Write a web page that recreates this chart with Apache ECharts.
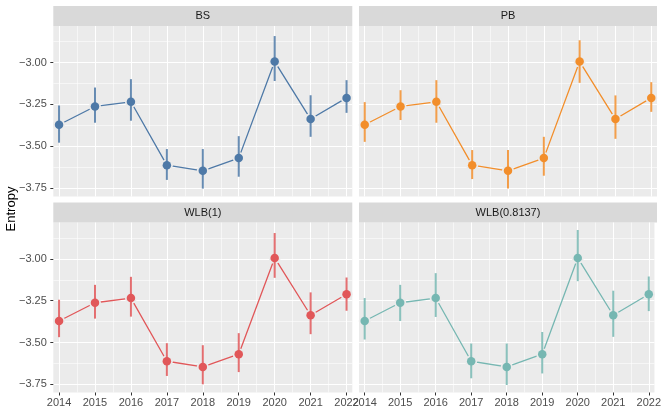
<!DOCTYPE html>
<html><head><meta charset="utf-8">
<script src="https://cdn.jsdelivr.net/npm/echarts@6/dist/echarts.min.js"></script>
<style>html,body{margin:0;padding:0;background:#fff}#c{width:664px;height:415px}</style>
</head><body><div id="c"></div><script>
const years = [2014, 2015, 2016, 2017, 2018, 2019, 2020, 2021, 2022];
const panelNames = ['BS', 'PB', 'WLB(1)', 'WLB(0.8137)'];
const panelColors = ['#4E79A7', '#F28E2B', '#E15759', '#76B7B2'];

const estBS   = [-3.371, -3.262, -3.234, -3.612, -3.646, -3.570, -2.994, -3.337, -3.211];
const lowBS   = [-3.478, -3.359, -3.347, -3.700, -3.752, -3.681, -3.110, -3.443, -3.300];
const highBS  = [-3.256, -3.149, -3.099, -3.516, -3.516, -3.439, -2.842, -3.195, -3.105];

const estPB   = [-3.371, -3.262, -3.234, -3.612, -3.646, -3.570, -2.994, -3.337, -3.211];
const lowPB   = [-3.473, -3.343, -3.359, -3.695, -3.752, -3.675, -3.121, -3.455, -3.294];
const highPB  = [-3.236, -3.165, -3.105, -3.522, -3.522, -3.443, -2.867, -3.196, -3.117];

const estW1   = [-3.371, -3.262, -3.234, -3.612, -3.646, -3.570, -2.994, -3.337, -3.211];
const lowW1   = [-3.468, -3.357, -3.345, -3.700, -3.750, -3.677, -3.113, -3.450, -3.310];
const highW1  = [-3.244, -3.155, -3.107, -3.504, -3.516, -3.444, -2.845, -3.200, -3.111];

const estW2   = [-3.371, -3.262, -3.234, -3.612, -3.646, -3.570, -2.994, -3.337, -3.211];
const lowW2   = [-3.482, -3.371, -3.347, -3.714, -3.754, -3.685, -3.133, -3.466, -3.312];
const highW2  = [-3.234, -3.155, -3.085, -3.506, -3.506, -3.437, -2.827, -3.190, -3.105];

const yMajorTicks = [-3.75, -3.50, -3.25, -3.00];
const yMinorTicks = [-3.625, -3.375, -3.125, -2.875];
const xMajorTicks = years;
const xMinorTicks = [2014.5, 2015.5, 2016.5, 2017.5, 2018.5, 2019.5, 2020.5, 2021.5];

const estAll = [estBS, estPB, estW1, estW2];
const lowAll = [lowBS, lowPB, lowW1, lowW2];
const highAll = [highBS, highPB, highW1, highW2];

const X_MIN = 2013.84, X_MAX = 2022.16;
const Y_MIN = -3.799, Y_MAX = -2.782;

const grids = [
  {left: 53.3, top: 26, width: 299, height: 170.5},
  {left: 359, top: 26, width: 298, height: 170.5},
  {left: 53.3, top: 222.5, width: 299, height: 170},
  {left: 359, top: 222.5, width: 298, height: 170}
];

const FONT = 'Liberation Sans, Arial, sans-serif';
const xAxes = [], yAxes = [], series = [], graphics = [];

grids.forEach((g, i) => {
  const bottom = i >= 2, left = (i % 2) === 0;
  xAxes.push({
    type: 'value', gridIndex: i, min: X_MIN, max: X_MAX,
    axisLine: {show: false},
    axisTick: {show: bottom, length: 3, lineStyle: {color: '#333333', width: 1}, customValues: xMajorTicks},
    axisLabel: {show: bottom, customValues: xMajorTicks, margin: 5, color: '#4D4D4D', fontSize: 11, fontFamily: FONT,
      formatter: v => String(v)},
    splitLine: {show: true, lineStyle: {color: '#FFFFFF', width: 1.1}}
  });
  xAxes.push({
    type: 'value', gridIndex: i, min: X_MIN, max: X_MAX,
    axisLine: {show: false},
    axisTick: {show: false, customValues: xMinorTicks},
    axisLabel: {show: false, customValues: xMinorTicks},
    splitLine: {show: true, lineStyle: {color: '#FFFFFF', width: 0.55}}
  });
  yAxes.push({
    type: 'value', gridIndex: i, min: Y_MIN, max: Y_MAX,
    axisLine: {show: false},
    axisTick: {show: left, length: 3, lineStyle: {color: '#333333', width: 1}, customValues: yMajorTicks},
    axisLabel: {show: left, customValues: yMajorTicks, margin: 6.5, color: '#4D4D4D', fontSize: 11, fontFamily: FONT,
      formatter: v => (v < 0 ? '\u2212' : '') + Math.abs(v).toFixed(2)},
    splitLine: {show: true, lineStyle: {color: '#FFFFFF', width: 1.1}}
  });
  yAxes.push({
    type: 'value', gridIndex: i, min: Y_MIN, max: Y_MAX,
    axisLine: {show: false},
    axisTick: {show: false, customValues: yMinorTicks},
    axisLabel: {show: false, customValues: yMinorTicks},
    splitLine: {show: true, lineStyle: {color: '#FFFFFF', width: 0.55}}
  });

  const color = panelColors[i];
  const pts = years.map((y, k) => [y, estAll[i][k]]);
  // connecting line; its (background-coloured) symbols make the gap around points
  series.push({
    type: 'line', xAxisIndex: 2 * i, yAxisIndex: 2 * i, z: 2,
    data: pts,
    symbol: 'circle', symbolSize: 12,
    itemStyle: {color: '#EBEBEB', borderWidth: 0},
    lineStyle: {color: color, width: 1.3},
    animation: false, silent: true
  });
  // error bars
  series.push({
    type: 'custom', xAxisIndex: 2 * i, yAxisIndex: 2 * i, z: 3,
    encode: {x: 0, y: [1, 2]},
    data: years.map((y, k) => [y, lowAll[i][k], highAll[i][k]]),
    renderItem: (params, api) => {
      const p1 = api.coord([api.value(0), api.value(1)]);
      const p2 = api.coord([api.value(0), api.value(2)]);
      return {type: 'line', shape: {x1: p1[0], y1: p1[1], x2: p2[0], y2: p2[1]},
        style: {stroke: color, lineWidth: 2, opacity: 0.85}};
    },
    silent: true
  });
  // points
  series.push({
    type: 'scatter', xAxisIndex: 2 * i, yAxisIndex: 2 * i, z: 4,
    data: pts, symbol: 'circle', symbolSize: 8.5,
    itemStyle: {color: color, opacity: 1},
    animation: false, silent: true
  });

  graphics.push({
    type: 'rect', shape: {x: g.left, y: g.top - 20, width: g.width, height: 20},
    style: {fill: '#D9D9D9'}, silent: true
  });
  graphics.push({
    type: 'text', x: g.left + g.width / 2, y: g.top - 10,
    style: {text: panelNames[i], fill: '#1A1A1A', fontSize: 11, fontFamily: FONT,
      textAlign: 'center', textVerticalAlign: 'middle'}, silent: true
  });
});

graphics.push({
  type: 'text', x: 11.5, y: 209, rotation: Math.PI / 2,
  style: {text: 'Entropy', fill: '#000000', fontSize: 13, fontFamily: FONT,
    textAlign: 'center', textVerticalAlign: 'middle'}, silent: true
});

const chart = echarts.init(document.getElementById('c'), null, {renderer: 'canvas'});
chart.setOption({
  animation: false,
  backgroundColor: '#FFFFFF',
  grid: grids.map(g => Object.assign({backgroundColor: '#EBEBEB', show: true, borderWidth: 0}, g)),
  xAxis: xAxes,
  yAxis: yAxes,
  series: series,
  graphic: graphics
});
</script></body></html>
